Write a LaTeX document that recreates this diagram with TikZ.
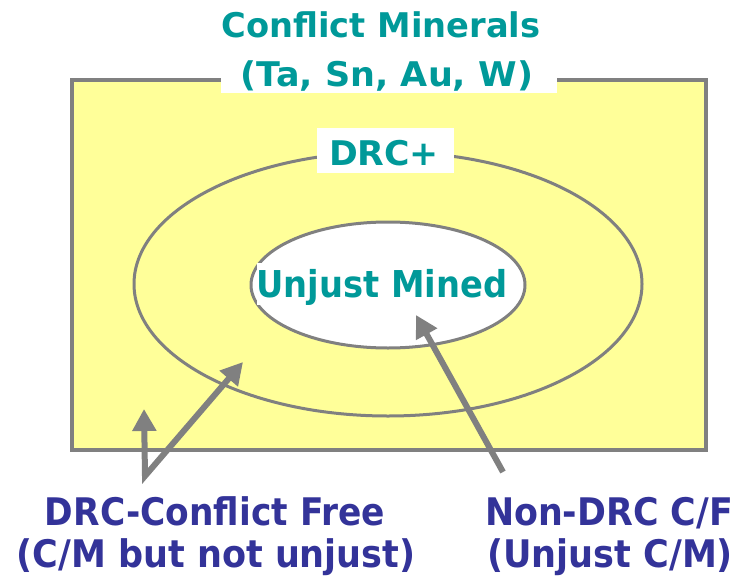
\documentclass[tikz,border=0pt]{standalone}
\usepackage{fontspec}
\usepackage{graphicx}
\setmainfont{DejaVu Sans}
\usetikzlibrary{arrows.meta}
\definecolor{tealtxt}{RGB}{0,153,153}
\definecolor{bluetxt}{RGB}{51,51,153}
\definecolor{yel}{RGB}{255,255,153}
\definecolor{edge}{RGB}{128,128,128}
\newcommand{\fitw}[2]{\resizebox{#1}{\height}{#2}}
\begin{document}
\begin{tikzpicture}[x=1pt,y=-1pt,
  lbl/.style={inner sep=0pt, anchor=base, font=\bfseries},
  tl/.style={lbl, text=tealtxt},
  bl/.style={lbl, text=bluetxt},
  whitebox/.style={fill=white, draw=none},
  ptr/.style={draw=edge, line width=6pt, line join=miter,
    -{Triangle[width=23pt,length=22pt]}}]
\useasboundingbox (0,0) rectangle (749,583);
% outer rectangle
\draw[fill=yel, draw=edge, line width=3.5pt] (72,80) rectangle (706,450);
% ellipses
\draw[fill=yel, draw=edge, line width=3pt] (388,284) ellipse [x radius=254, y radius=132];
\draw[fill=white, draw=edge, line width=3pt] (388,285) ellipse [x radius=137, y radius=63];
% white label backgrounds
\fill[whitebox] (221,40) rectangle (557,93);
\fill[whitebox] (317,128) rectangle (454,173);
\fill[whitebox] (257,263) rectangle (508,305);
% texts
\node[tl] (t1) at (381,38) {\fontsize{34}{40}\selectfont\fitw{319pt}{Conflict Minerals}};
\node[tl] (t2) at (387,87) {\fontsize{34}{40}\selectfont\fitw{292pt}{(Ta, Sn, Au, W)}};
\node[tl] (drc) at (384,165) {\fontsize{34}{40}\selectfont\fitw{110pt}{DRC+}};
\node[tl] (um) at (382,297) {\fontsize{37}{44}\selectfont\fitw{251pt}{Unjust Mined}};
\node[bl] (cf1) at (215,525) {\fontsize{38}{44}\selectfont\fitw{340pt}{DRC-Conflict Free}};
\node[bl] (cf2) at (216,567) {\fontsize{38}{44}\selectfont\fitw{399pt}{(C/M but not unjust)}};
\node[bl] (nd1) at (609,525) {\fontsize{38}{44}\selectfont\fitw{248pt}{Non-DRC C/F}};
\node[bl] (nd2) at (610,567) {\fontsize{38}{44}\selectfont\fitw{246pt}{(Unjust C/M)}};
% arrow coordinates
\coordinate (a1s) at (503,472);
\coordinate (a1e) at (416,315);
\coordinate (vb) at (145,476);
\coordinate (vt) at (144,409);
\coordinate (dt) at (243,362);
% arrows
\draw[ptr] (a1s) -- (a1e);
\draw[ptr, {Triangle[width=23pt,length=22pt]}-{Triangle[width=23pt,length=22pt]}] (vt) -- (vb) -- (dt);
\end{tikzpicture}
\end{document}
